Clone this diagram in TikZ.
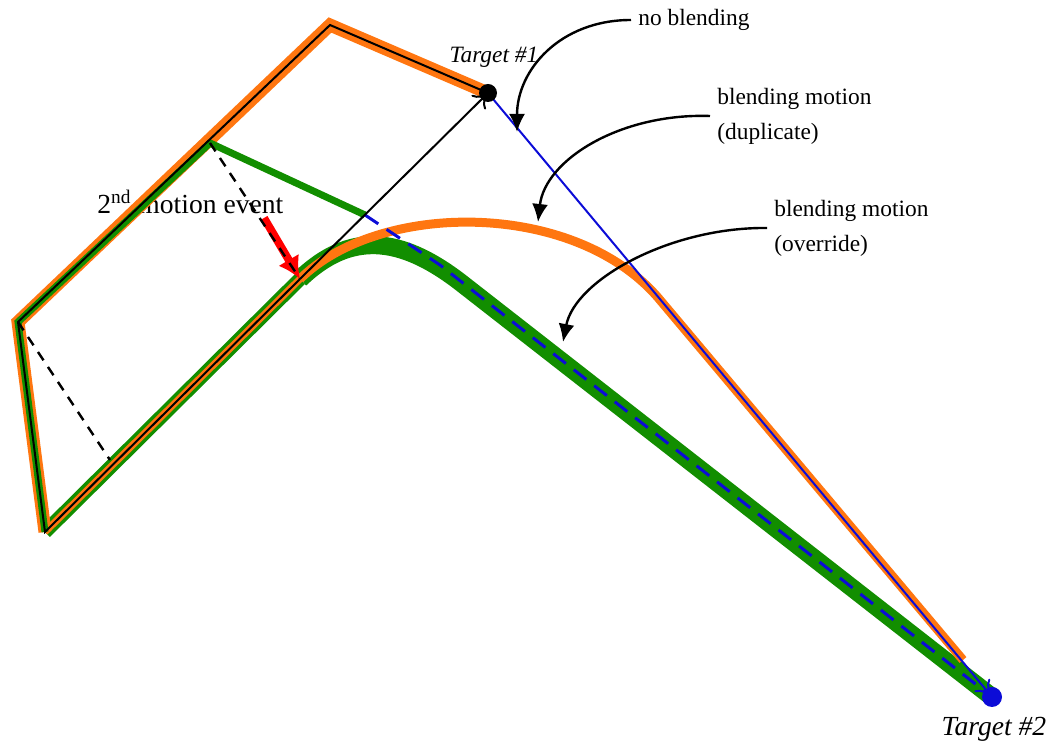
\documentclass[tikz,border=0pt]{standalone}
\usepackage{fontspec}
\setmainfont{Liberation Serif}
\usepackage{tikz}
\usetikzlibrary{arrows.meta, positioning}

\definecolor{pathorange}{RGB}{255,118,16}
\definecolor{pathgreen}{RGB}{18,142,0}
\definecolor{pathblue}{RGB}{12,12,215}

\tikzset{
  oldpath/.style={pathorange, line width=6.5pt},
  newpath/.style={pathgreen, line width=3.5pt},
  thinpath/.style={black, line width=1pt},
  guide/.style={black, line width=1.2pt, dash pattern=on 5pt off 4pt},
  callout/.style={black, line width=1.2pt, -{Latex[length=9pt,width=8pt]}},
  label/.style={inner sep=3.5pt},
  biglabel/.style={inner sep=3.5pt, font=\fontsize{13.8}{17}\selectfont}
}

\begin{document}
\begin{tikzpicture}[>=latex, x=0.5pt, y=-0.5pt, font=\fontsize{11.7}{17.5}\selectfont]
    \useasboundingbox (0,0) rectangle (1057,747);
    % Các điểm của quỹ đạo
    \coordinate (P0) at (300,279);
    \coordinate (B) at (45,532);
    \coordinate (L) at (18,322);
    \coordinate (T) at (330,25);
    \coordinate (T1) at (488,93);
    \coordinate (T2) at (992,697);
    \coordinate (E) at (210,143);
    \coordinate (C) at (365,215);
    \coordinate (F) at (110,460);
    \coordinate (R0) at (264,218);

    % Nhãn
    \node[biglabel, anchor=west] (event) at (90,202) {2\textsuperscript{nd} motion event};
    \node[label] (t1label) at (494,57) {\itshape Target \#1};
    \node[biglabel] (t2label) at (994,729) {\itshape Target \#2};
    \node[label, anchor=west] (noblend) at (631,20) {no blending};
    \node[label, anchor=west, align=left] (dup) at (710,116) {blending motion\\(duplicate)};
    \node[label, anchor=west, align=left] (ovr) at (767,228) {blending motion\\(override)};

    % Chuyển động ghi đè (xanh lá)
    \draw[pathgreen, line width=7pt] (B) -- (P0);
    \draw[pathgreen, line width=9pt] (P0)
       .. controls (350,231) and (400,236) .. (460,282) -- (T2);
    % Quỹ đạo không trộn và trộn nhân đôi (cam)
    \draw[oldpath] (T1) -- (T) -- (L) -- (B);
    \draw[pathorange, line width=3.5pt] (B) -- (P0);
    \draw[pathorange, line width=4.5pt] (P0)
       .. controls (380,200) and (577,200) .. (660,300) -- (963,660);
    \draw[newpath] (B) -- (L) -- (E) -- (C);
    \draw[thinpath] (P0) -- (B) -- (L) -- (T) -- (T1);

    % Đường nối hai đích
    \draw[pathblue, line width=1pt, -{To[length=8pt,width=10pt]}] (T1) -- (T2);
    \draw[pathblue, line width=1.5pt, dash pattern=on 8pt off 5pt] (C) -- (440,265) -- (T2);
    \draw[thinpath, -{To[length=7pt,width=10pt]}] (P0) -- (T1);

    % Đường nét đứt
    \draw[red, line width=4pt, -{Latex[length=11pt,width=12pt]}] (R0) -- (P0);
    \draw[guide] (E) -- (P0);
    \draw[guide] (L) -- (F);

    % Điểm đích
    \fill[black] (T1) circle (4.5pt);
    \fill[pathblue] (T2) circle (5pt);

    % Mũi tên chú thích
    \coordinate (nbtip) at (517,132);
    \coordinate (duptip) at (538,222);
    \coordinate (ovrtip) at (563,342);
    \draw[callout] (noblend.west) .. controls (560,20) and (517,70) .. (nbtip);
    \draw[callout] (dup.west) .. controls (620,113) and (545,160) .. (duptip);
    \draw[callout] (ovr.west) .. controls (670,227) and (575,280) .. (ovrtip);
\end{tikzpicture}
\end{document}
